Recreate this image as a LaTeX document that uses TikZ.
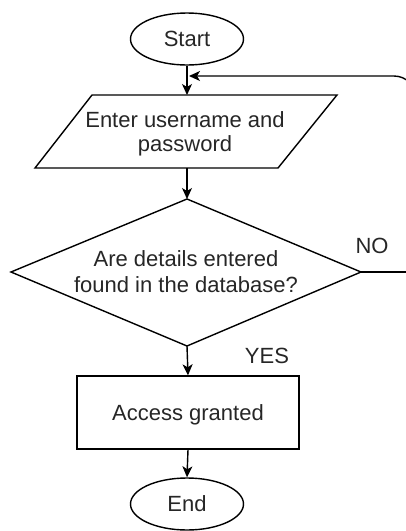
\documentclass[tikz,border=0pt]{standalone}
\usepackage{fontspec}
\setmainfont{Liberation Sans}
\usetikzlibrary{shapes.geometric,arrows.meta}
\begin{document}
\begin{tikzpicture}[x=1pt,y=-1pt,
  line/.style={line width=1.4pt, draw=black},
  arr/.style={line, -{Stealth[length=11pt,width=10pt,inset=3pt]}},
  lbl/.style={font=\fontsize{22pt}{25pt}\selectfont, align=center, inner sep=0pt, text=black!85},
  oneline/.style={lbl, text height=15.8pt, text depth=0pt},
  term/.style={ellipse, line, minimum width=113pt, minimum height=52pt, inner sep=0pt, oneline},
  proc/.style={rectangle, line, minimum width=222pt, minimum height=73pt, inner sep=0pt, oneline},
]
\useasboundingbox (0,0) rectangle (405,531);

% terminals and process box
\node[term] (start) at (187,39) {Start};
\node[proc] (grant) at (188,412.5) {Access granted};
\node[term] (stop) at (187,504) {End};

% input parallelogram
\coordinate (inA) at (92,95);
\coordinate (inB) at (337,95);
\coordinate (inC) at (278,168);
\coordinate (inD) at (35,168);
\draw[line, line join=miter] (inA) -- (inB) -- (inC) -- (inD) -- cycle;
\coordinate (inTop) at (187,95);
\coordinate (inBot) at (187,168);
\node[lbl, font=\fontsize{22pt}{24pt}\selectfont] (input) at (185,134) {Enter username and\\password};

% decision diamond
\coordinate (dTop) at (187,199);
\coordinate (dRight) at (361,272);
\coordinate (dBot) at (187,346);
\coordinate (dLeft) at (11,272);
\draw[line, line join=miter] (dTop) -- (dRight) -- (dBot) -- (dLeft) -- cycle;
\node[lbl, font=\fontsize{22pt}{26pt}\selectfont] (query) at (186,272) {Are details entered\\found in the database?};

% branch labels
\node[oneline] (no) at (372,246) {NO};
\node[oneline] (yes) at (267,356) {YES};

% main flow
\draw[arr] (start.south) -- (inTop);
\draw[arr] (inBot) -- (dTop);
\draw[arr] (dBot) -- (grant.north);
\draw[arr] (grant.south) -- (stop.north);

% retry loop back to the input step
\coordinate (loopB) at (416,272);
\coordinate (loopT) at (416,76);
\coordinate (loopEnd) at (189,76);
\draw[line] (dRight) -- (loopB);
\draw[arr, rounded corners=22pt] (loopB) -- (loopT) -- (loopEnd);
\end{tikzpicture}
\end{document}
